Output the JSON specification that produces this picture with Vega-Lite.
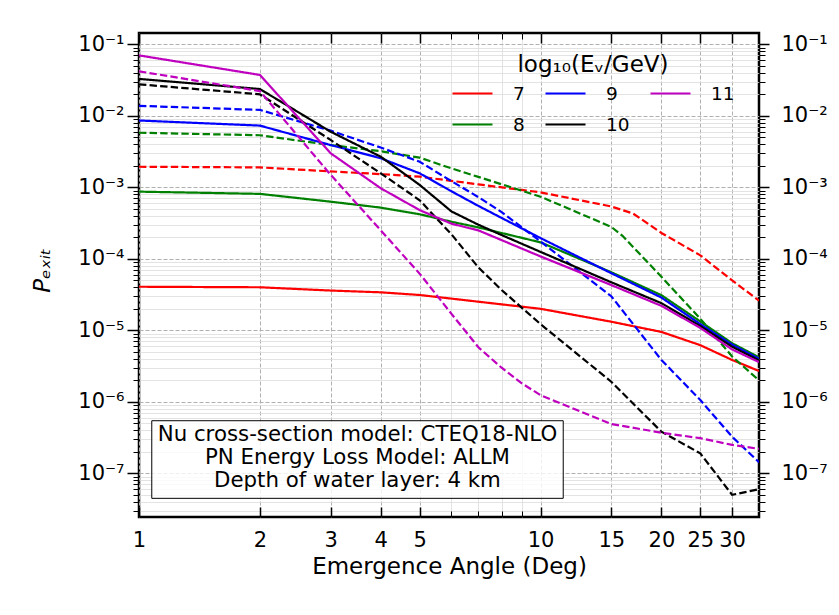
{
  "$schema": "https://vega.github.io/schema/vega-lite/v6.json",
  "width": 620,
  "height": 484,
  "autosize": {"type": "none"},
  "padding": {"left": 139, "top": 33, "right": 80, "bottom": 98},
  "background": "white",
  "config": {
    "font": "DejaVu Sans",
    "view": {"stroke": "black", "strokeWidth": 2.5},
    "axis": {"domain": false, "labelColor": "black", "tickColor": "black", "titleColor": "black", "titleFontWeight": "normal", "labelFlush": false, "labelOverlap": false}
  },
  "datasets": {
    "d": [
      {"E": "7", "m": "solid", "x": 1, "y": 4.07e-5},
      {"E": "7", "m": "solid", "x": 2, "y": 4.0e-5},
      {"E": "7", "m": "solid", "x": 3, "y": 3.6e-5},
      {"E": "7", "m": "solid", "x": 4, "y": 3.4e-5},
      {"E": "7", "m": "solid", "x": 5, "y": 3.12e-5},
      {"E": "7", "m": "solid", "x": 10, "y": 2.0e-5},
      {"E": "7", "m": "solid", "x": 15, "y": 1.32e-5},
      {"E": "7", "m": "solid", "x": 20, "y": 9.5e-6},
      {"E": "7", "m": "solid", "x": 25, "y": 6.2e-6},
      {"E": "7", "m": "solid", "x": 30, "y": 3.85e-6},
      {"E": "7", "m": "solid", "x": 35, "y": 2.7e-6},
      {"E": "7", "m": "dashed", "x": 1, "y": 1.94e-3},
      {"E": "7", "m": "dashed", "x": 2, "y": 1.9e-3},
      {"E": "7", "m": "dashed", "x": 3, "y": 1.67e-3},
      {"E": "7", "m": "dashed", "x": 4, "y": 1.53e-3},
      {"E": "7", "m": "dashed", "x": 5, "y": 1.41e-3},
      {"E": "7", "m": "dashed", "x": 7, "y": 1.1e-3},
      {"E": "7", "m": "dashed", "x": 10, "y": 8.5e-4},
      {"E": "7", "m": "dashed", "x": 15, "y": 5.4e-4},
      {"E": "7", "m": "dashed", "x": 17, "y": 4.3e-4},
      {"E": "7", "m": "dashed", "x": 20, "y": 2.3e-4},
      {"E": "7", "m": "dashed", "x": 25, "y": 1.12e-4},
      {"E": "7", "m": "dashed", "x": 30, "y": 5.0e-5},
      {"E": "7", "m": "dashed", "x": 35, "y": 2.6e-5},
      {"E": "8", "m": "solid", "x": 1, "y": 8.7e-4},
      {"E": "8", "m": "solid", "x": 2, "y": 8.1e-4},
      {"E": "8", "m": "solid", "x": 3, "y": 6.3e-4},
      {"E": "8", "m": "solid", "x": 4, "y": 5.2e-4},
      {"E": "8", "m": "solid", "x": 5, "y": 4.2e-4},
      {"E": "8", "m": "solid", "x": 6, "y": 3.3e-4},
      {"E": "8", "m": "solid", "x": 7, "y": 2.75e-4},
      {"E": "8", "m": "solid", "x": 10, "y": 1.7e-4},
      {"E": "8", "m": "solid", "x": 15, "y": 6.5e-5},
      {"E": "8", "m": "solid", "x": 20, "y": 3.1e-5},
      {"E": "8", "m": "solid", "x": 25, "y": 1.33e-5},
      {"E": "8", "m": "solid", "x": 30, "y": 6.6e-6},
      {"E": "8", "m": "solid", "x": 35, "y": 4.2e-6},
      {"E": "8", "m": "dashed", "x": 1, "y": 5.8e-3},
      {"E": "8", "m": "dashed", "x": 2, "y": 5.35e-3},
      {"E": "8", "m": "dashed", "x": 3, "y": 3.9e-3},
      {"E": "8", "m": "dashed", "x": 4, "y": 3.2e-3},
      {"E": "8", "m": "dashed", "x": 5, "y": 2.6e-3},
      {"E": "8", "m": "dashed", "x": 6, "y": 1.84e-3},
      {"E": "8", "m": "dashed", "x": 7, "y": 1.4e-3},
      {"E": "8", "m": "dashed", "x": 10, "y": 7.4e-4},
      {"E": "8", "m": "dashed", "x": 15, "y": 2.8e-4},
      {"E": "8", "m": "dashed", "x": 16, "y": 2.1e-4},
      {"E": "8", "m": "dashed", "x": 20, "y": 5.6e-5},
      {"E": "8", "m": "dashed", "x": 25, "y": 1.45e-5},
      {"E": "8", "m": "dashed", "x": 30, "y": 4.3e-6},
      {"E": "8", "m": "dashed", "x": 35, "y": 2.0e-6},
      {"E": "9", "m": "solid", "x": 1, "y": 8.6e-3},
      {"E": "9", "m": "solid", "x": 2, "y": 7.3e-3},
      {"E": "9", "m": "solid", "x": 3, "y": 3.9e-3},
      {"E": "9", "m": "solid", "x": 4, "y": 2.55e-3},
      {"E": "9", "m": "solid", "x": 5, "y": 1.57e-3},
      {"E": "9", "m": "solid", "x": 6, "y": 8.8e-4},
      {"E": "9", "m": "solid", "x": 7, "y": 5.5e-4},
      {"E": "9", "m": "solid", "x": 10, "y": 1.95e-4},
      {"E": "9", "m": "solid", "x": 15, "y": 6.3e-5},
      {"E": "9", "m": "solid", "x": 20, "y": 2.87e-5},
      {"E": "9", "m": "solid", "x": 25, "y": 1.22e-5},
      {"E": "9", "m": "solid", "x": 30, "y": 6.3e-6},
      {"E": "9", "m": "solid", "x": 35, "y": 4.0e-6},
      {"E": "9", "m": "dashed", "x": 1, "y": 1.38e-2},
      {"E": "9", "m": "dashed", "x": 2, "y": 1.21e-2},
      {"E": "9", "m": "dashed", "x": 3, "y": 6.2e-3},
      {"E": "9", "m": "dashed", "x": 4, "y": 3.6e-3},
      {"E": "9", "m": "dashed", "x": 5, "y": 2.28e-3},
      {"E": "9", "m": "dashed", "x": 6, "y": 1.22e-3},
      {"E": "9", "m": "dashed", "x": 7, "y": 7.3e-4},
      {"E": "9", "m": "dashed", "x": 8, "y": 4.5e-4},
      {"E": "9", "m": "dashed", "x": 10, "y": 1.75e-4},
      {"E": "9", "m": "dashed", "x": 15, "y": 3.0e-5},
      {"E": "9", "m": "dashed", "x": 20, "y": 3.85e-6},
      {"E": "9", "m": "dashed", "x": 25, "y": 1.06e-6},
      {"E": "9", "m": "dashed", "x": 30, "y": 3.25e-7},
      {"E": "9", "m": "dashed", "x": 35, "y": 1.43e-7},
      {"E": "10", "m": "solid", "x": 1, "y": 3.28e-2},
      {"E": "10", "m": "solid", "x": 2, "y": 2.37e-2},
      {"E": "10", "m": "solid", "x": 3, "y": 6.0e-3},
      {"E": "10", "m": "solid", "x": 4, "y": 2.68e-3},
      {"E": "10", "m": "solid", "x": 5, "y": 1.08e-3},
      {"E": "10", "m": "solid", "x": 6, "y": 4.6e-4},
      {"E": "10", "m": "solid", "x": 7, "y": 3.0e-4},
      {"E": "10", "m": "solid", "x": 8, "y": 2.15e-4},
      {"E": "10", "m": "solid", "x": 10, "y": 1.25e-4},
      {"E": "10", "m": "solid", "x": 15, "y": 4.7e-5},
      {"E": "10", "m": "solid", "x": 20, "y": 2.4e-5},
      {"E": "10", "m": "solid", "x": 25, "y": 1.15e-5},
      {"E": "10", "m": "solid", "x": 30, "y": 5.9e-6},
      {"E": "10", "m": "solid", "x": 35, "y": 3.8e-6},
      {"E": "10", "m": "dashed", "x": 1, "y": 2.76e-2},
      {"E": "10", "m": "dashed", "x": 2, "y": 2.0e-2},
      {"E": "10", "m": "dashed", "x": 3, "y": 4.6e-3},
      {"E": "10", "m": "dashed", "x": 4, "y": 1.57e-3},
      {"E": "10", "m": "dashed", "x": 5, "y": 6.6e-4},
      {"E": "10", "m": "dashed", "x": 6, "y": 2.2e-4},
      {"E": "10", "m": "dashed", "x": 7, "y": 7.6e-5},
      {"E": "10", "m": "dashed", "x": 8, "y": 3.66e-5},
      {"E": "10", "m": "dashed", "x": 10, "y": 1.22e-5},
      {"E": "10", "m": "dashed", "x": 15, "y": 1.91e-6},
      {"E": "10", "m": "dashed", "x": 20, "y": 3.82e-7},
      {"E": "10", "m": "dashed", "x": 25, "y": 1.9e-7},
      {"E": "10", "m": "dashed", "x": 30, "y": 5.0e-8},
      {"E": "10", "m": "dashed", "x": 35, "y": 6.0e-8},
      {"E": "11", "m": "solid", "x": 1, "y": 7.0e-2},
      {"E": "11", "m": "solid", "x": 2, "y": 3.73e-2},
      {"E": "11", "m": "solid", "x": 3, "y": 3.0e-3},
      {"E": "11", "m": "solid", "x": 4, "y": 9.7e-4},
      {"E": "11", "m": "solid", "x": 5, "y": 4.8e-4},
      {"E": "11", "m": "solid", "x": 6, "y": 3.1e-4},
      {"E": "11", "m": "solid", "x": 7, "y": 2.5e-4},
      {"E": "11", "m": "solid", "x": 10, "y": 1.08e-4},
      {"E": "11", "m": "solid", "x": 15, "y": 4.3e-5},
      {"E": "11", "m": "solid", "x": 20, "y": 2.2e-5},
      {"E": "11", "m": "solid", "x": 25, "y": 1.08e-5},
      {"E": "11", "m": "solid", "x": 30, "y": 5.4e-6},
      {"E": "11", "m": "solid", "x": 35, "y": 3.6e-6},
      {"E": "11", "m": "dashed", "x": 1, "y": 4.19e-2},
      {"E": "11", "m": "dashed", "x": 2, "y": 2.22e-2},
      {"E": "11", "m": "dashed", "x": 3, "y": 1.5e-3},
      {"E": "11", "m": "dashed", "x": 4, "y": 2.5e-4},
      {"E": "11", "m": "dashed", "x": 5, "y": 6.2e-5},
      {"E": "11", "m": "dashed", "x": 6, "y": 1.7e-5},
      {"E": "11", "m": "dashed", "x": 7, "y": 5.8e-6},
      {"E": "11", "m": "dashed", "x": 8, "y": 3.0e-6},
      {"E": "11", "m": "dashed", "x": 9, "y": 1.8e-6},
      {"E": "11", "m": "dashed", "x": 10, "y": 1.24e-6},
      {"E": "11", "m": "dashed", "x": 15, "y": 4.9e-7},
      {"E": "11", "m": "dashed", "x": 20, "y": 3.7e-7},
      {"E": "11", "m": "dashed", "x": 25, "y": 3.1e-7},
      {"E": "11", "m": "dashed", "x": 30, "y": 2.5e-7},
      {"E": "11", "m": "dashed", "x": 35, "y": 2.2e-7}
    ]
  },
  "data": {"name": "d"},
  "layer": [
    {
      "mark": {"type": "line", "strokeWidth": 2.2, "clip": true},
      "encoding": {
        "x": {"field": "x", "type": "quantitative",
          "scale": {"type": "log", "domain": [1, 35], "nice": false, "zero": false},
          "axis": {"orient": "bottom", "values": [1, 2, 3, 4, 5, 10, 15, 20, 25, 30], "labelExpr": "format(datum.value, 'd')",
            "labelFontSize": 21, "labelPadding": 22, "tickSize": -10, "tickWidth": 1.5,
            "grid": true, "gridColor": "#b0b0b0", "gridDash": [4, 2], "gridWidth": 1,
            "title": "Emergence Angle (Deg)", "titleFontSize": 23, "titleBaseline": "middle", "titleY": 49}},
        "y": {"field": "y", "type": "quantitative",
          "scale": {"type": "log", "domain": [2.45e-8, 0.144], "nice": false, "zero": false},
          "axis": {"orient": "left", "values": [1e-7, 1e-6, 1e-5, 1e-4, 1e-3, 1e-2, 1e-1],
            "labelExpr": "'10⁻' + ['⁰','¹','²','³','⁴','⁵','⁶','⁷','⁸','⁹'][-round(log(datum.value)/LN10)]",
            "labelFontSize": 21, "labelPadding": 3, "tickSize": 12, "tickWidth": 1.5,
            "grid": true, "gridColor": "#b0b0b0", "gridDash": [4, 2], "gridWidth": 1,
            "title": "Pₑₓᵢₜ", "titleFontSize": 23, "titleFontStyle": "italic", "titleAngle": -90,
            "titleAlign": "center", "titleBaseline": "middle", "titleX": -97, "titleY": 237}},
        "color": {"field": "E", "type": "nominal",
          "scale": {"domain": ["7", "8", "9", "10", "11"], "range": ["#ff0000", "#008000", "#0000ff", "#000000", "#bf00bf"]},
          "legend": {"title": "log₁₀(Eᵥ/GeV)", "orient": "none", "legendX": 312, "legendY": 21, "columns": 3,
            "labelExpr": "datum.label == '7' || datum.label == '8' ? datum.label + '   ' : datum.label",
            "symbolType": "stroke", "symbolSize": 1600, "symbolStrokeWidth": 2.2, "labelFontSize": 18.5,
            "titleFontSize": 23, "titleFontWeight": "normal", "titleAnchor": "middle", "titleColor": "black", "labelColor": "black",
            "columnPadding": 16, "rowPadding": -16, "labelOffset": 19, "padding": 0, "titlePadding": -5}},
        "strokeDash": {"field": "m", "type": "nominal",
          "scale": {"domain": ["solid", "dashed"], "range": [[1, 0], [7.4, 3.2]]}, "legend": null},
        "order": {"field": "x", "type": "quantitative"}
      }
    },
    {
      "mark": {"type": "point", "opacity": 0},
      "encoding": {
        "x": {"field": "x", "type": "quantitative",
          "scale": {"type": "log", "domain": [1, 35], "nice": false, "zero": false},
          "axis": {"orient": "top", "values": [1, 2, 3, 4, 5, 10, 15, 20, 25, 30], "labels": false, "tickSize": -10, "tickWidth": 1.5, "grid": false, "title": null}},
        "y": {"field": "y", "type": "quantitative",
          "scale": {"type": "log", "domain": [2.45e-8, 0.144], "nice": false, "zero": false},
          "axis": {"orient": "right", "values": [1e-7, 1e-6, 1e-5, 1e-4, 1e-3, 1e-2, 1e-1],
            "labelExpr": "'10⁻' + ['⁰','¹','²','³','⁴','⁵','⁶','⁷','⁸','⁹'][-round(log(datum.value)/LN10)]",
            "labelFontSize": 21, "labelPadding": 12, "tickSize": 10, "tickWidth": 1.5, "grid": false, "title": null}}
      }
    },
    {
      "mark": {"type": "point", "opacity": 0},
      "encoding": {
        "x": {"field": "x", "type": "quantitative",
          "scale": {"type": "log", "domain": [1, 35], "nice": false, "zero": false},
          "axis": {"orient": "bottom", "values": [6, 7, 8, 9], "labels": false, "tickSize": -6, "tickWidth": 1,
            "grid": true, "gridColor": "#dcdcdc", "gridWidth": 0.8, "title": null}},
        "y": {"field": "y", "type": "quantitative",
          "scale": {"type": "log", "domain": [2.45e-8, 0.144], "nice": false, "zero": false},
          "axis": {"orient": "left", "values": [3e-8, 4e-8, 5e-8, 6e-8, 7e-8, 8e-8, 9e-8, 2e-7, 3e-7, 4e-7, 5e-7, 6e-7, 7e-7, 8e-7, 9e-7, 2e-6, 3e-6, 4e-6, 5e-6, 6e-6, 7e-6, 8e-6, 9e-6, 2e-5, 3e-5, 4e-5, 5e-5, 6e-5, 7e-5, 8e-5, 9e-5, 2e-4, 3e-4, 4e-4, 5e-4, 6e-4, 7e-4, 8e-4, 9e-4, 2e-3, 3e-3, 4e-3, 5e-3, 6e-3, 7e-3, 8e-3, 9e-3, 2e-2, 3e-2, 4e-2, 5e-2, 6e-2, 7e-2, 8e-2, 9e-2],
            "labels": false, "tickSize": 6, "tickWidth": 1, "grid": true, "gridColor": "#dcdcdc", "gridWidth": 0.8, "title": null}}
      }
    },
    {
      "mark": {"type": "point", "opacity": 0},
      "encoding": {
        "x": {"field": "x", "type": "quantitative",
          "scale": {"type": "log", "domain": [1, 35], "nice": false, "zero": false},
          "axis": {"orient": "top", "values": [6, 7, 8, 9], "labels": false, "tickSize": -6, "tickWidth": 1, "grid": false, "title": null}},
        "y": {"field": "y", "type": "quantitative",
          "scale": {"type": "log", "domain": [2.45e-8, 0.144], "nice": false, "zero": false},
          "axis": {"orient": "right", "values": [3e-8, 4e-8, 5e-8, 6e-8, 7e-8, 8e-8, 9e-8, 2e-7, 3e-7, 4e-7, 5e-7, 6e-7, 7e-7, 8e-7, 9e-7, 2e-6, 3e-6, 4e-6, 5e-6, 6e-6, 7e-6, 8e-6, 9e-6, 2e-5, 3e-5, 4e-5, 5e-5, 6e-5, 7e-5, 8e-5, 9e-5, 2e-4, 3e-4, 4e-4, 5e-4, 6e-4, 7e-4, 8e-4, 9e-4, 2e-3, 3e-3, 4e-3, 5e-3, 6e-3, 7e-3, 8e-3, 9e-3, 2e-2, 3e-2, 4e-2, 5e-2, 6e-2, 7e-2, 8e-2, 9e-2],
            "labels": false, "tickSize": 6, "tickWidth": 1, "grid": false, "title": null}}
      }
    },
    {
      "data": {"values": [{"x1": 1.076, "x2": 11.39, "y1": 5.44e-7, "y2": 4.47e-8}]},
      "mark": {"type": "rect", "fill": "white", "fillOpacity": 0.8, "stroke": "black", "strokeWidth": 1},
      "encoding": {
        "x": {"field": "x1", "type": "quantitative", "scale": {"type": "log", "domain": [1, 35], "nice": false, "zero": false}, "axis": null},
        "x2": {"field": "x2"},
        "y": {"field": "y1", "type": "quantitative", "scale": {"type": "log", "domain": [2.45e-8, 0.144], "nice": false, "zero": false}, "axis": null},
        "y2": {"field": "y2"}
      }
    },
    {
      "data": {"values": [{"x": 3.5, "y": 3.44e-7, "t": ["Nu cross-section model: CTEQ18-NLO", "PN Energy Loss Model: ALLM", "Depth of water layer: 4 km"]}]},
      "mark": {"type": "text", "fontSize": 21.3, "lineHeight": 23, "align": "center", "baseline": "middle", "color": "black"},
      "encoding": {
        "x": {"field": "x", "type": "quantitative", "scale": {"type": "log", "domain": [1, 35], "nice": false, "zero": false}, "axis": null},
        "y": {"field": "y", "type": "quantitative", "scale": {"type": "log", "domain": [2.45e-8, 0.144], "nice": false, "zero": false}, "axis": null},
        "text": {"field": "t"}
      }
    }
  ]
}
